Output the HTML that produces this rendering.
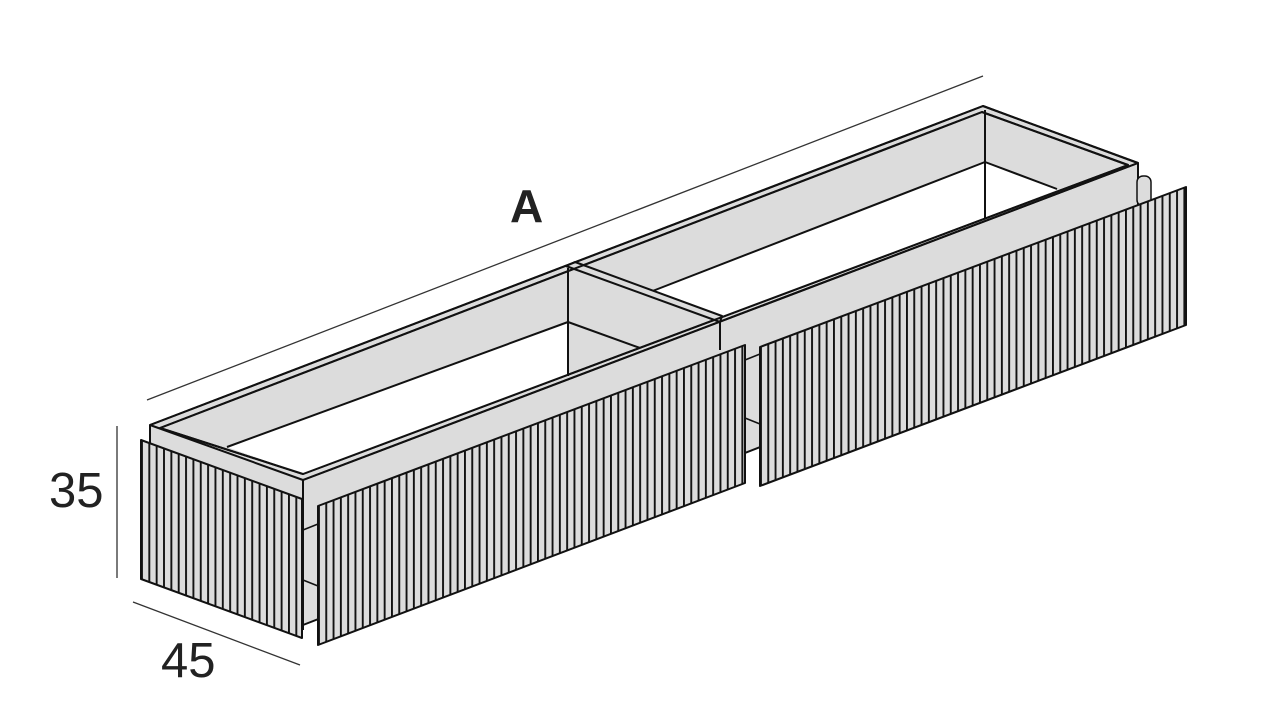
<!DOCTYPE html>
<html><head><meta charset="utf-8"><style>
html,body{margin:0;padding:0;background:#fff;}
svg{display:block;}
text{font-family:"Liberation Sans",sans-serif;fill:#222;}
</style></head><body>
<svg width="1280" height="720" viewBox="0 0 1280 720" xmlns="http://www.w3.org/2000/svg">
<defs>
<pattern id="st" patternUnits="userSpaceOnUse" width="7.35" height="10" x="141" y="0">
<rect width="7.35" height="10" fill="#dcdcdc"/>
<rect x="0" width="1.9" height="10" fill="#111"/>
</pattern>
<pattern id="st2" patternUnits="userSpaceOnUse" width="7.3" height="10" x="318" y="0">
<rect width="7.3" height="10" fill="#dcdcdc"/>
<rect x="0" width="1.9" height="10" fill="#111"/>
</pattern>
<pattern id="st3" patternUnits="userSpaceOnUse" width="7.3" height="10" x="760" y="0">
<rect width="7.3" height="10" fill="#dcdcdc"/>
<rect x="0" width="1.9" height="10" fill="#111"/>
</pattern>
</defs>
<g stroke="#333" stroke-width="1.3" fill="none">
<line x1="147" y1="400" x2="983" y2="76"/>
<line x1="117" y1="426" x2="117" y2="578"/>
<line x1="133" y1="602" x2="300" y2="665"/>
</g>
<g stroke="#111" stroke-width="2" stroke-linejoin="round">
<polygon points="150,425 983,106 1138,163 1138,300 303,625 150,570" fill="#dcdcdc"/>
<line x1="303" y1="480" x2="303" y2="630"/>
<line x1="303" y1="480" x2="1138" y2="163"/>
<rect x="1137" y="176" width="14" height="30" rx="6" fill="#dcdcdc" stroke-width="1.5"/>
<polygon points="160,428 982,112 1128,165 303,474" fill="#dcdcdc"/>
<polygon points="227,447 568,322 568,374 303,474" fill="#fff" stroke="none"/>
<line x1="227" y1="447" x2="568" y2="322"/>
<polygon points="650,292 985,162 1057,190 720,318" fill="#fff" stroke="none"/>
<line x1="650" y1="292" x2="985" y2="162"/>
<line x1="985" y1="162" x2="1057" y2="189"/>
<line x1="985" y1="110" x2="985" y2="218"/>
<line x1="568" y1="268" x2="568" y2="376"/>
<line x1="568" y1="322" x2="640" y2="348"/>
<polygon points="566,266 575,262 722,316 720,322" fill="#dcdcdc"/>
<line x1="720" y1="322" x2="720" y2="350"/>
<polygon points="150,425 983,106 1138,163 303,480" fill="none"/>
<polygon points="160,428 982,112 1128,165 303,474" fill="none"/>
<line x1="150" y1="425" x2="150" y2="440"/>
<line x1="745" y1="360" x2="760" y2="354" stroke-width="1.5"/>
<line x1="745" y1="418" x2="760" y2="424" stroke-width="1.5"/>
<line x1="303" y1="530" x2="318" y2="524" stroke-width="1.5"/>
<line x1="303" y1="580" x2="318" y2="586" stroke-width="1.5"/>
<polygon points="141,440 302,499 302,638 141,579" fill="url(#st)"/>
<polygon points="318,506 745,345 745,483 318,645" fill="url(#st2)"/>
<polygon points="760,347 1186,187 1186,325 760,486" fill="url(#st3)"/>
</g>
<text x="510" y="222" font-size="46" font-weight="bold">A</text>
<text x="49" y="507" font-size="49">35</text>
<text x="161" y="677" font-size="49">45</text>
</svg>
</body></html>
